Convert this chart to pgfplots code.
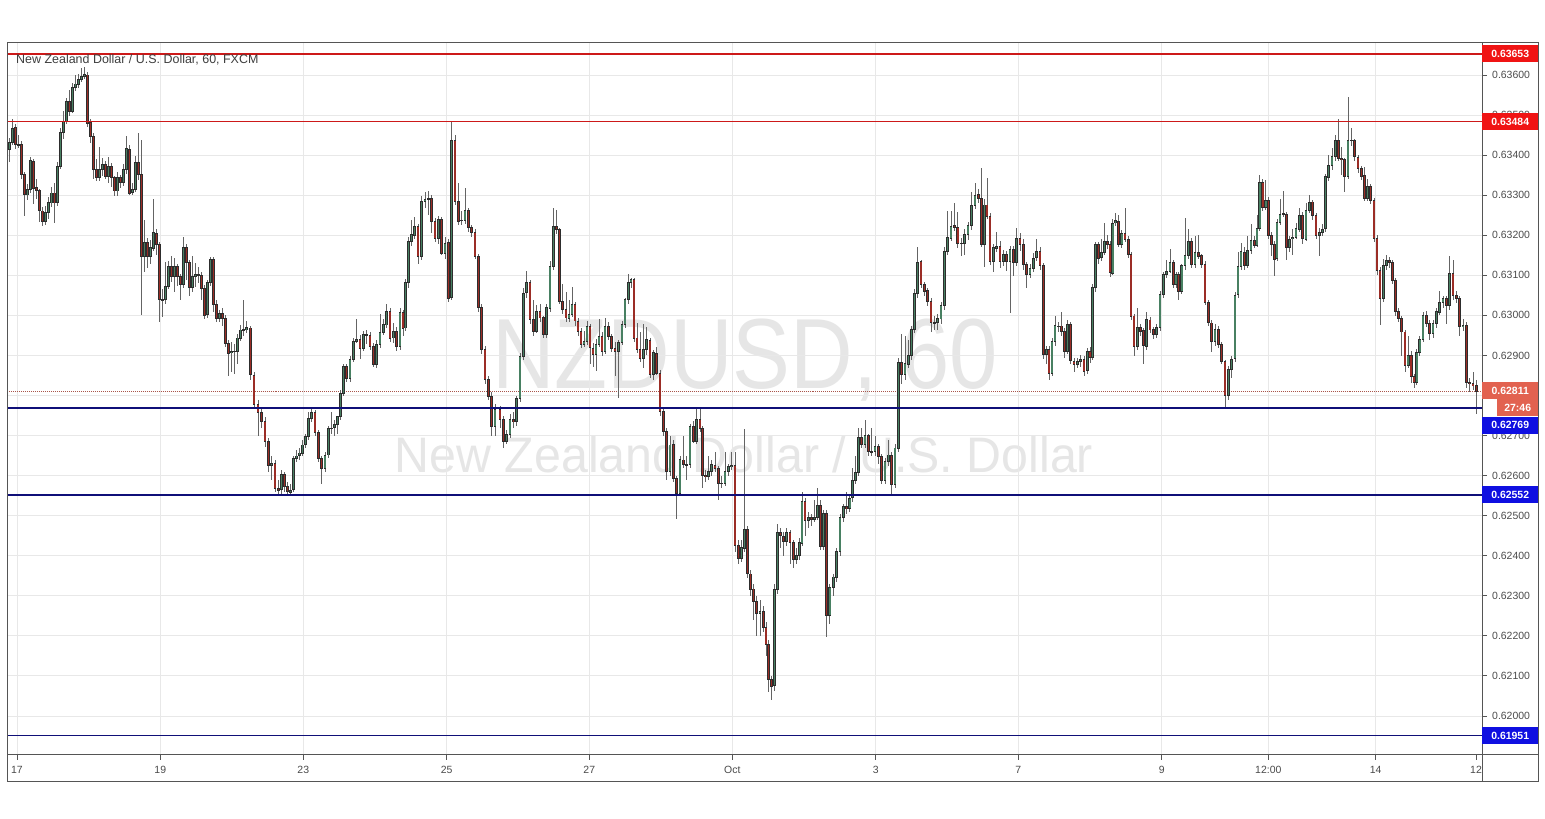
\documentclass[border=0pt]{standalone}
\usepackage{fontspec}
\setmainfont{Liberation Sans}
\usepackage{pgfplots}
\usepackage{pgfplotstable}
\pgfplotsset{compat=1.18}

\definecolor{upc}{RGB}{72,128,98}
\definecolor{dnc}{RGB}{155,45,38}
\definecolor{edge}{RGB}{45,45,45}
\definecolor{wick}{RGB}{100,100,100}
\definecolor{gridc}{RGB}{232,232,232}
\definecolor{framec}{RGB}{85,85,85}
\definecolor{resc}{RGB}{205,25,25}
\definecolor{supc}{RGB}{15,15,120}
\definecolor{tagred}{RGB}{240,20,20}
\definecolor{tagblue}{RGB}{15,15,225}
\definecolor{tagcur}{RGB}{226,98,80}
\definecolor{curline}{RGB}{170,85,75}
\definecolor{wm}{RGB}{230,230,230}
\definecolor{txt}{RGB}{75,75,75}
\definecolor{ttl}{RGB}{62,62,62}

% support / resistance levels
\pgfplotstableread{
x y
7 0.63653
1482 0.63653
}\levA
\pgfplotstableread{
x y
7 0.62769
1482 0.62769
}\levC
\pgfplotstableread{
x y
7 0.62552
1482 0.62552
}\levD

% hourly candles, x = position on the time axis
\pgfplotstableread{
x o h l c
9.5 0.63415 0.63445 0.63385 0.63432
12.5 0.63432 0.63490 0.63425 0.63469
15.5 0.63469 0.63478 0.63415 0.63427
18.5 0.63427 0.63450 0.63418 0.63428
21.5 0.63428 0.63435 0.63340 0.63353
24.5 0.63353 0.63360 0.63248 0.63302
27.5 0.63302 0.63330 0.63290 0.63315
30.5 0.63315 0.63395 0.63305 0.63386
33.5 0.63386 0.63392 0.63280 0.63319
36.5 0.63319 0.63340 0.63290 0.63311
39.5 0.63311 0.63318 0.63235 0.63261
42.5 0.63261 0.63270 0.63223 0.63236
45.5 0.63236 0.63275 0.63226 0.63257
48.5 0.63257 0.63295 0.63240 0.63282
51.5 0.63282 0.63320 0.63270 0.63307
54.5 0.63307 0.63330 0.63230 0.63282
57.5 0.63282 0.63385 0.63275 0.63373
60.5 0.63373 0.63466 0.63365 0.63457
63.5 0.63457 0.63510 0.63440 0.63486
66.5 0.63486 0.63545 0.63478 0.63536
69.5 0.63536 0.63565 0.63500 0.63511
72.5 0.63511 0.63580 0.63505 0.63569
75.5 0.63569 0.63600 0.63560 0.63578
78.5 0.63578 0.63605 0.63570 0.63590
81.5 0.63590 0.63619 0.63582 0.63598
84.5 0.63598 0.63622 0.63590 0.63602
87.5 0.63602 0.63608 0.63470 0.63482
90.5 0.63482 0.63490 0.63430 0.63448
93.5 0.63448 0.63455 0.63340 0.63365
96.5 0.63365 0.63390 0.63335 0.63344
99.5 0.63344 0.63420 0.63335 0.63365
102.5 0.63365 0.63395 0.63350 0.63377
105.5 0.63377 0.63385 0.63340 0.63348
108.5 0.63348 0.63395 0.63330 0.63373
111.5 0.63373 0.63380 0.63320 0.63344
114.5 0.63344 0.63350 0.63300 0.63311
117.5 0.63311 0.63360 0.63300 0.63344
120.5 0.63344 0.63352 0.63320 0.63332
123.5 0.63332 0.63380 0.63325 0.63365
126.5 0.63365 0.63448 0.63355 0.63417
129.5 0.63417 0.63425 0.63300 0.63307
132.5 0.63307 0.63330 0.63300 0.63315
135.5 0.63315 0.63400 0.63310 0.63382
138.5 0.63382 0.63457 0.63340 0.63352
141.5 0.63352 0.63440 0.63002 0.63148
144.5 0.63148 0.63240 0.63110 0.63182
147.5 0.63182 0.63195 0.63120 0.63148
150.5 0.63148 0.63190 0.63130 0.63169
153.5 0.63169 0.63290 0.63160 0.63207
156.5 0.63207 0.63215 0.63150 0.63178
159.5 0.63178 0.63185 0.62986 0.63040
162.5 0.63040 0.63065 0.62995 0.63040
165.5 0.63040 0.63135 0.63030 0.63073
168.5 0.63073 0.63135 0.63065 0.63123
171.5 0.63123 0.63150 0.63085 0.63098
174.5 0.63098 0.63145 0.63060 0.63123
177.5 0.63123 0.63130 0.63075 0.63098
180.5 0.63098 0.63105 0.63040 0.63077
183.5 0.63077 0.63195 0.63070 0.63169
186.5 0.63169 0.63178 0.63090 0.63132
189.5 0.63132 0.63140 0.63050 0.63069
192.5 0.63069 0.63150 0.63060 0.63098
195.5 0.63098 0.63130 0.63070 0.63102
198.5 0.63102 0.63120 0.63080 0.63102
201.5 0.63102 0.63110 0.63040 0.63069
204.5 0.63069 0.63075 0.62990 0.63002
207.5 0.63002 0.63090 0.62995 0.63082
210.5 0.63082 0.63148 0.63075 0.63140
213.5 0.63140 0.63145 0.63010 0.63028
216.5 0.63028 0.63040 0.62985 0.62994
219.5 0.62994 0.63015 0.62985 0.63006
222.5 0.63006 0.63020 0.62975 0.62994
225.5 0.62994 0.63000 0.62920 0.62932
228.5 0.62932 0.62940 0.62850 0.62907
231.5 0.62907 0.62935 0.62860 0.62911
234.5 0.62911 0.62930 0.62855 0.62911
237.5 0.62911 0.62955 0.62880 0.62944
240.5 0.62944 0.62975 0.62935 0.62965
243.5 0.62965 0.63040 0.62950 0.62965
246.5 0.62965 0.62985 0.62955 0.62969
250.5 0.62969 0.62975 0.62840 0.62852
254 0.62852 0.62860 0.62770 0.62778
258 0.62778 0.62790 0.62700 0.62757
261.5 0.62757 0.62770 0.62720 0.62736
265 0.62736 0.62745 0.62670 0.62686
268.5 0.62686 0.62695 0.62610 0.62627
271.5 0.62627 0.62650 0.62590 0.62630
275 0.62630 0.62640 0.62560 0.62569
278.5 0.62569 0.62590 0.62552 0.62565
281.5 0.62565 0.62615 0.62555 0.62603
284.5 0.62603 0.62610 0.62560 0.62573
287.5 0.62573 0.62585 0.62552 0.62560
290.5 0.62560 0.62580 0.62553 0.62565
293.5 0.62565 0.62650 0.62560 0.62644
296.5 0.62644 0.62665 0.62635 0.62650
299.5 0.62650 0.62670 0.62640 0.62657
302.5 0.62657 0.62690 0.62650 0.62678
305.5 0.62678 0.62705 0.62670 0.62698
308.5 0.62698 0.62760 0.62690 0.62744
311.5 0.62744 0.62770 0.62735 0.62757
315 0.62757 0.62765 0.62700 0.62707
318.5 0.62707 0.62715 0.62635 0.62644
321.5 0.62644 0.62650 0.62581 0.62619
325 0.62619 0.62660 0.62610 0.62652
328.5 0.62652 0.62725 0.62645 0.62719
331.5 0.62719 0.62760 0.62705 0.62720
334.5 0.62720 0.62740 0.62700 0.62727
337.5 0.62727 0.62745 0.62705 0.62748
340.5 0.62748 0.62815 0.62740 0.62807
343.5 0.62807 0.62880 0.62800 0.62873
346.5 0.62873 0.62880 0.62835 0.62844
350 0.62844 0.62900 0.62835 0.62890
353.5 0.62890 0.62945 0.62885 0.62936
356.5 0.62936 0.62990 0.62930 0.62940
360 0.62940 0.62950 0.62890 0.62919
363.5 0.62919 0.62960 0.62910 0.62952
366.5 0.62952 0.62965 0.62930 0.62952
370 0.62952 0.62960 0.62915 0.62923
373.5 0.62923 0.62930 0.62870 0.62878
376.5 0.62878 0.62940 0.62870 0.62928
380 0.62928 0.63005 0.62920 0.62957
383.5 0.62957 0.62990 0.62950 0.62977
386.5 0.62977 0.63030 0.62970 0.63011
390 0.63011 0.63020 0.62935 0.62944
393.5 0.62944 0.62980 0.62930 0.62961
396.5 0.62961 0.62970 0.62910 0.62923
400 0.62923 0.63020 0.62915 0.63007
403 0.63007 0.63015 0.62950 0.62969
405.5 0.62969 0.63090 0.62960 0.63082
408.5 0.63082 0.63195 0.63070 0.63186
411.5 0.63186 0.63240 0.63175 0.63202
414.5 0.63202 0.63245 0.63190 0.63223
418 0.63223 0.63230 0.63130 0.63148
421.5 0.63148 0.63300 0.63140 0.63286
425 0.63286 0.63310 0.63270 0.63290
428.5 0.63290 0.63310 0.63250 0.63292
431.5 0.63292 0.63300 0.63205 0.63236
435 0.63236 0.63245 0.63185 0.63194
438.5 0.63194 0.63250 0.63180 0.63240
441.5 0.63240 0.63245 0.63150 0.63157
445 0.63157 0.63195 0.63140 0.63182
448.5 0.63182 0.63190 0.63035 0.63044
451.5 0.63044 0.63483 0.63040 0.63437
455 0.63437 0.63450 0.63275 0.63286
458.5 0.63286 0.63330 0.63225 0.63236
461.5 0.63236 0.63260 0.63225 0.63238
465 0.63238 0.63320 0.63230 0.63262
468.5 0.63262 0.63270 0.63210 0.63219
471.5 0.63219 0.63225 0.63195 0.63207
475 0.63207 0.63215 0.63140 0.63148
478.5 0.63148 0.63155 0.63010 0.63019
481.5 0.63019 0.63030 0.62905 0.62915
485 0.62915 0.62925 0.62830 0.62840
488.5 0.62840 0.62850 0.62790 0.62798
491.5 0.62798 0.62810 0.62700 0.62723
495 0.62723 0.62780 0.62700 0.62765
500 0.62765 0.62775 0.62720 0.62740
503.3 0.62740 0.62750 0.62669 0.62686
506.7 0.62686 0.62715 0.62680 0.62703
510 0.62703 0.62755 0.62695 0.62740
513.3 0.62740 0.62760 0.62720 0.62735
516.7 0.62735 0.62800 0.62725 0.62794
520 0.62794 0.62905 0.62785 0.62898
523.3 0.62898 0.63070 0.62890 0.63057
526.7 0.63057 0.63111 0.63045 0.63082
530 0.63082 0.63090 0.62980 0.62990
533.3 0.62990 0.63040 0.62950 0.62961
536.7 0.62961 0.63025 0.62955 0.63011
540 0.63011 0.63030 0.62985 0.62994
543.3 0.62994 0.63000 0.62945 0.62952
546.7 0.62952 0.63030 0.62945 0.63019
550 0.63019 0.63135 0.63010 0.63123
553.3 0.63123 0.63269 0.63115 0.63223
556.7 0.63223 0.63265 0.63205 0.63215
559.5 0.63215 0.63220 0.63030 0.63036
562.5 0.63036 0.63080 0.63005 0.63015
566 0.63015 0.63060 0.62985 0.62994
569 0.62994 0.63040 0.62985 0.63003
572 0.63003 0.63070 0.62995 0.63028
575 0.63028 0.63035 0.62975 0.62986
578 0.62986 0.62995 0.62950 0.62961
581 0.62961 0.62970 0.62920 0.62928
584 0.62928 0.62960 0.62920 0.62936
587 0.62936 0.62985 0.62925 0.62973
590 0.62973 0.62980 0.62880 0.62919
593 0.62919 0.62930 0.62870 0.62903
596 0.62903 0.62940 0.62860 0.62928
599 0.62928 0.62990 0.62920 0.62948
602 0.62948 0.62960 0.62900 0.62911
605 0.62911 0.62995 0.62905 0.62973
608.5 0.62973 0.62985 0.62940 0.62948
611.5 0.62948 0.62955 0.62910 0.62919
615 0.62919 0.62935 0.62850 0.62911
618.5 0.62911 0.62940 0.62794 0.62932
622 0.62932 0.62985 0.62925 0.62978
625 0.62978 0.63045 0.62970 0.63040
628.3 0.63040 0.63103 0.63030 0.63082
631 0.63082 0.63095 0.63070 0.63090
634 0.63090 0.63095 0.62935 0.62944
637 0.62944 0.62980 0.62905 0.62915
640 0.62915 0.62960 0.62885 0.62894
643.3 0.62894 0.62980 0.62870 0.62915
646.7 0.62915 0.62970 0.62900 0.62940
650 0.62940 0.62945 0.62845 0.62853
653.3 0.62853 0.62915 0.62840 0.62907
656.7 0.62907 0.62920 0.62850 0.62857
660 0.62857 0.62865 0.62750 0.62761
663.3 0.62761 0.62770 0.62700 0.62711
666.7 0.62711 0.62720 0.62590 0.62611
670 0.62611 0.62700 0.62600 0.62678
673.3 0.62678 0.62690 0.62585 0.62594
676.7 0.62594 0.62600 0.62494 0.62557
680 0.62557 0.62650 0.62550 0.62640
683.3 0.62640 0.62700 0.62620 0.62628
686.7 0.62628 0.62650 0.62590 0.62628
690 0.62628 0.62730 0.62620 0.62723
693.3 0.62723 0.62735 0.62680 0.62686
696.7 0.62686 0.62769 0.62680 0.62740
700 0.62740 0.62769 0.62710 0.62719
702.7 0.62719 0.62725 0.62570 0.62602
705.7 0.62602 0.62615 0.62585 0.62598
708.7 0.62598 0.62650 0.62590 0.62611
711.7 0.62611 0.62640 0.62600 0.62627
715 0.62627 0.62660 0.62610 0.62619
718.3 0.62619 0.62625 0.62540 0.62582
721.7 0.62582 0.62600 0.62570 0.62582
725 0.62582 0.62660 0.62575 0.62611
728.3 0.62611 0.62630 0.62600 0.62623
731.7 0.62623 0.62660 0.62615 0.62627
735 0.62627 0.62660 0.62410 0.62427
738.3 0.62427 0.62440 0.62380 0.62394
741.2 0.62394 0.62440 0.62385 0.62420
744.4 0.62420 0.62717 0.62410 0.62467
747.5 0.62467 0.62475 0.62345 0.62356
750.5 0.62356 0.62365 0.62300 0.62317
753.3 0.62317 0.62330 0.62240 0.62287
756.7 0.62287 0.62300 0.62200 0.62257
760 0.62257 0.62290 0.62200 0.62262
763.3 0.62262 0.62275 0.62210 0.62222
766 0.62222 0.62235 0.62150 0.62179
768.7 0.62179 0.62190 0.62060 0.62093
771.5 0.62093 0.62100 0.62042 0.62076
774.3 0.62076 0.62330 0.62065 0.62317
777.2 0.62317 0.62480 0.62305 0.62459
780.3 0.62459 0.62470 0.62420 0.62450
783.4 0.62450 0.62460 0.62400 0.62437
786.7 0.62437 0.62470 0.62425 0.62459
790 0.62459 0.62465 0.62380 0.62433
793.3 0.62433 0.62440 0.62370 0.62390
796.5 0.62390 0.62420 0.62380 0.62400
799.3 0.62400 0.62445 0.62390 0.62433
802 0.62433 0.62560 0.62425 0.62536
805 0.62536 0.62545 0.62450 0.62489
808.4 0.62489 0.62510 0.62470 0.62497
811.5 0.62497 0.62505 0.62475 0.62492
814.5 0.62492 0.62540 0.62485 0.62497
817.5 0.62497 0.62570 0.62490 0.62527
820.5 0.62527 0.62540 0.62415 0.62424
823.5 0.62424 0.62515 0.62415 0.62506
826.5 0.62506 0.62515 0.62197 0.62252
829.8 0.62252 0.62330 0.62230 0.62321
833.2 0.62321 0.62355 0.62300 0.62347
836.6 0.62347 0.62420 0.62335 0.62411
840 0.62411 0.62505 0.62400 0.62497
843.3 0.62497 0.62530 0.62485 0.62523
846.6 0.62523 0.62560 0.62505 0.62519
849.8 0.62519 0.62555 0.62510 0.62545
852.7 0.62545 0.62620 0.62535 0.62588
855.5 0.62588 0.62650 0.62580 0.62609
858.5 0.62609 0.62720 0.62600 0.62695
861.7 0.62695 0.62720 0.62670 0.62678
865 0.62678 0.62740 0.62670 0.62700
868.3 0.62700 0.62705 0.62650 0.62661
871.7 0.62661 0.62720 0.62650 0.62661
875 0.62661 0.62700 0.62650 0.62674
878.3 0.62674 0.62680 0.62630 0.62648
881.7 0.62648 0.62655 0.62580 0.62588
885 0.62588 0.62645 0.62580 0.62635
888.3 0.62635 0.62690 0.62625 0.62652
891.7 0.62652 0.62660 0.62552 0.62579
895 0.62579 0.62680 0.62570 0.62669
898.3 0.62669 0.62895 0.62660 0.62884
901.7 0.62884 0.62955 0.62830 0.62854
905 0.62854 0.62950 0.62840 0.62880
908.2 0.62880 0.62940 0.62870 0.62901
911.3 0.62901 0.62975 0.62890 0.62965
914.3 0.62965 0.63065 0.62955 0.63056
917.5 0.63056 0.63170 0.63045 0.63134
920.9 0.63134 0.63140 0.63070 0.63078
924.3 0.63078 0.63085 0.63050 0.63061
927.7 0.63061 0.63070 0.63025 0.63035
931 0.63035 0.63045 0.62960 0.62983
934.3 0.62983 0.63000 0.62965 0.62983
937.6 0.62983 0.63005 0.62965 0.62992
940.9 0.62992 0.63035 0.62980 0.63026
944.2 0.63026 0.63170 0.63015 0.63159
947.6 0.63159 0.63260 0.63150 0.63194
951 0.63194 0.63260 0.63185 0.63224
954.4 0.63224 0.63280 0.63210 0.63220
957.8 0.63220 0.63260 0.63170 0.63181
961.2 0.63181 0.63195 0.63150 0.63181
964.6 0.63181 0.63215 0.63150 0.63202
968 0.63202 0.63235 0.63190 0.63224
971.5 0.63224 0.63310 0.63215 0.63275
975 0.63275 0.63330 0.63265 0.63301
978.3 0.63301 0.63315 0.63280 0.63292
981.5 0.63292 0.63369 0.63170 0.63178
984.3 0.63178 0.63290 0.63120 0.63277
987 0.63277 0.63344 0.63240 0.63248
990 0.63248 0.63255 0.63125 0.63136
993.3 0.63136 0.63180 0.63110 0.63169
996.7 0.63169 0.63210 0.63160 0.63173
1000 0.63173 0.63185 0.63120 0.63136
1003.3 0.63136 0.63165 0.63125 0.63153
1006.7 0.63153 0.63160 0.63110 0.63136
1010 0.63136 0.63175 0.63007 0.63165
1013.3 0.63165 0.63175 0.63100 0.63132
1016.7 0.63132 0.63220 0.63125 0.63194
1020 0.63194 0.63205 0.63160 0.63178
1023.3 0.63178 0.63190 0.63115 0.63128
1026.7 0.63128 0.63135 0.63070 0.63103
1030 0.63103 0.63130 0.63095 0.63119
1033.3 0.63119 0.63155 0.63110 0.63144
1036.7 0.63144 0.63190 0.63135 0.63161
1040 0.63161 0.63170 0.63115 0.63124
1043.3 0.63124 0.63130 0.62890 0.62903
1046.2 0.62903 0.62925 0.62880 0.62915
1049 0.62915 0.62925 0.62840 0.62857
1052 0.62857 0.62945 0.62850 0.62936
1055 0.62936 0.63000 0.62925 0.62974
1058.2 0.62974 0.62985 0.62960 0.62974
1061.2 0.62974 0.63010 0.62950 0.62961
1064.2 0.62961 0.62970 0.62895 0.62911
1067.4 0.62911 0.62990 0.62905 0.62978
1070.7 0.62978 0.62985 0.62880 0.62887
1074 0.62887 0.62895 0.62860 0.62878
1077.3 0.62878 0.62895 0.62870 0.62886
1080.7 0.62886 0.62900 0.62870 0.62890
1084 0.62890 0.62900 0.62850 0.62862
1087.2 0.62862 0.62920 0.62855 0.62911
1090 0.62911 0.62920 0.62880 0.62895
1092.6 0.62895 0.63080 0.62890 0.63070
1095.3 0.63070 0.63185 0.63060 0.63178
1098.3 0.63178 0.63185 0.63130 0.63144
1101.3 0.63144 0.63190 0.63135 0.63157
1104.3 0.63157 0.63230 0.63150 0.63186
1107.3 0.63186 0.63200 0.63165 0.63178
1110 0.63178 0.63185 0.63095 0.63107
1112.8 0.63107 0.63240 0.63100 0.63232
1115.7 0.63232 0.63258 0.63225 0.63236
1118.7 0.63236 0.63250 0.63170 0.63178
1121.8 0.63178 0.63215 0.63170 0.63207
1125 0.63207 0.63270 0.63185 0.63190
1128.2 0.63190 0.63200 0.63145 0.63153
1131 0.63153 0.63160 0.62990 0.62999
1134 0.62999 0.63005 0.62900 0.62924
1137.3 0.62924 0.63020 0.62915 0.62970
1140.6 0.62970 0.62980 0.62950 0.62961
1143.5 0.62961 0.62970 0.62880 0.62924
1146.7 0.62924 0.63010 0.62915 0.62990
1150 0.62990 0.62995 0.62955 0.62965
1153.3 0.62965 0.62970 0.62940 0.62953
1156.7 0.62953 0.62980 0.62945 0.62970
1160 0.62970 0.63060 0.62960 0.63053
1163.3 0.63053 0.63110 0.63045 0.63103
1166.7 0.63103 0.63140 0.63095 0.63111
1170 0.63111 0.63165 0.63105 0.63132
1173.2 0.63132 0.63140 0.63070 0.63078
1176 0.63078 0.63110 0.63070 0.63103
1178.7 0.63103 0.63110 0.63040 0.63061
1181.8 0.63061 0.63130 0.63055 0.63124
1185 0.63124 0.63245 0.63115 0.63149
1188.3 0.63149 0.63215 0.63140 0.63186
1191.7 0.63186 0.63195 0.63120 0.63128
1195 0.63128 0.63200 0.63120 0.63157
1198.3 0.63157 0.63200 0.63140 0.63149
1201.7 0.63149 0.63155 0.63120 0.63128
1205 0.63128 0.63135 0.63025 0.63032
1208.3 0.63032 0.63040 0.62975 0.62982
1211.7 0.62982 0.62990 0.62910 0.62936
1215 0.62936 0.62980 0.62925 0.62965
1218.3 0.62965 0.62975 0.62920 0.62928
1221.7 0.62928 0.62935 0.62880 0.62886
1225 0.62886 0.62890 0.62772 0.62801
1228.3 0.62801 0.62875 0.62790 0.62867
1231.7 0.62867 0.62900 0.62845 0.62892
1235 0.62892 0.63060 0.62885 0.63051
1237.9 0.63051 0.63160 0.63045 0.63121
1241 0.63121 0.63180 0.63115 0.63159
1244.3 0.63159 0.63170 0.63115 0.63125
1247.7 0.63125 0.63200 0.63120 0.63163
1251 0.63163 0.63230 0.63155 0.63188
1254.2 0.63188 0.63200 0.63170 0.63176
1257 0.63176 0.63250 0.63170 0.63217
1259.8 0.63217 0.63350 0.63210 0.63333
1262.8 0.63333 0.63340 0.63260 0.63271
1265.8 0.63271 0.63340 0.63265 0.63288
1268.6 0.63288 0.63295 0.63190 0.63200
1271.6 0.63200 0.63210 0.63150 0.63179
1274.4 0.63179 0.63185 0.63100 0.63142
1277 0.63142 0.63240 0.63135 0.63234
1280 0.63234 0.63290 0.63225 0.63254
1283.2 0.63254 0.63310 0.63245 0.63254
1286.2 0.63254 0.63260 0.63140 0.63171
1289.4 0.63171 0.63200 0.63160 0.63192
1292.7 0.63192 0.63215 0.63150 0.63196
1296 0.63196 0.63230 0.63190 0.63217
1299.3 0.63217 0.63270 0.63210 0.63250
1302.7 0.63250 0.63260 0.63180 0.63192
1306 0.63192 0.63280 0.63185 0.63263
1309.3 0.63263 0.63300 0.63255 0.63284
1312.7 0.63284 0.63290 0.63240 0.63250
1316 0.63250 0.63255 0.63190 0.63200
1319.3 0.63200 0.63220 0.63150 0.63208
1322.5 0.63208 0.63230 0.63200 0.63217
1325.5 0.63217 0.63355 0.63210 0.63346
1328.7 0.63346 0.63400 0.63335 0.63375
1332 0.63375 0.63420 0.63365 0.63396
1335.3 0.63396 0.63450 0.63385 0.63437
1338.3 0.63437 0.63490 0.63385 0.63392
1341.4 0.63392 0.63420 0.63350 0.63388
1344.6 0.63388 0.63395 0.63310 0.63346
1347.9 0.63346 0.63546 0.63340 0.63437
1351.2 0.63437 0.63470 0.63425 0.63437
1354.6 0.63437 0.63440 0.63385 0.63396
1358 0.63396 0.63400 0.63355 0.63367
1361.3 0.63367 0.63375 0.63340 0.63348
1364.6 0.63348 0.63370 0.63285 0.63292
1367.6 0.63292 0.63340 0.63285 0.63321
1370.7 0.63321 0.63330 0.63280 0.63288
1373.9 0.63288 0.63295 0.63185 0.63192
1376.9 0.63192 0.63200 0.63100 0.63113
1380 0.63113 0.63120 0.62976 0.63042
1383.2 0.63042 0.63140 0.63035 0.63125
1386.5 0.63125 0.63150 0.63115 0.63138
1389.7 0.63138 0.63145 0.63120 0.63134
1392.6 0.63134 0.63140 0.63080 0.63088
1395.4 0.63088 0.63095 0.63000 0.63009
1398.4 0.63009 0.63020 0.62985 0.62992
1401.6 0.62992 0.63000 0.62900 0.62959
1404.9 0.62959 0.62965 0.62860 0.62876
1408.1 0.62876 0.62950 0.62870 0.62901
1411.1 0.62901 0.62910 0.62830 0.62847
1414 0.62847 0.62855 0.62820 0.62834
1416.8 0.62834 0.62915 0.62825 0.62909
1419.8 0.62909 0.62950 0.62900 0.62942
1423 0.62942 0.63010 0.62935 0.63000
1426.3 0.63000 0.63010 0.62970 0.62980
1429.7 0.62980 0.62990 0.62940 0.62955
1433 0.62955 0.62990 0.62945 0.62980
1436.3 0.62980 0.63020 0.62970 0.63009
1439.7 0.63009 0.63060 0.63000 0.63034
1443 0.63034 0.63050 0.63020 0.63042
1446.3 0.63042 0.63050 0.62980 0.63026
1449.7 0.63026 0.63150 0.63015 0.63105
1453 0.63105 0.63140 0.63040 0.63051
1456.3 0.63051 0.63060 0.63030 0.63042
1459.7 0.63042 0.63050 0.62950 0.62972
1463 0.62972 0.62990 0.62960 0.62976
1466.3 0.62976 0.62985 0.62820 0.62834
1469.7 0.62834 0.62845 0.62810 0.62830
1473 0.62830 0.62860 0.62815 0.62826
1476.3 0.62826 0.62840 0.62755 0.62811
}\candles

\begin{document}
\begin{tikzpicture}
\path[use as bounding box, fill=white] (0bp,0bp) rectangle (1545bp,819bp);

% watermark
\node[text=wm, font=\fontsize{100}{100}\selectfont, xscale=0.87, anchor=base] at (745bp,430bp) {NZDUSD, 60};
\node[text=wm, font=\fontsize{50}{50}\selectfont, xscale=0.97, anchor=base] at (744bp,346bp) {New Zealand Dollar / U.S. Dollar};

\begin{axis}[
  at={(7bp,64bp)}, anchor=south west,
  scale only axis, width=1475bp, height=712bp,
  xmin=7, xmax=1482, ymin=0.619027, ymax=0.636799,
  axis line style={draw=framec, line width=1bp},
  xtick={17,160.3,303.3,446.7,589.3,732.3,875.7,1018.3,1161.7,1268.3,1375.7},
  xticklabels={17,19,23,25,27,Oct,3,7,9,12:00,14},
  extra x ticks={1476},
  extra x tick labels={12},
  extra x tick style={grid=none},
  ytick={0.620,0.621,0.622,0.623,0.624,0.625,0.626,0.627,0.628,0.629,0.630,0.631,0.632,0.633,0.634,0.635,0.636},
  yticklabels={0.62000,0.62100,0.62200,0.62300,0.62400,0.62500,0.62600,0.62700,0.62800,0.62900,0.63000,0.63100,0.63200,0.63300,0.63400,0.63500,0.63600},
  xtick pos=left, ytick pos=right, yticklabel pos=right,
  tick align=outside, major tick length=5bp,
  tick style={draw=framec, line width=1bp},
  grid=major, major grid style={draw=gridc, line width=1bp},
  ticklabel style={text=txt, font=\fontsize{10.5}{12}\selectfont},
  yticklabel style={anchor=west, inner sep=0pt, xshift=5bp},
  xticklabel style={anchor=base, inner sep=0pt, yshift=-14bp},
]
\addplot[draw=curline, densely dotted, line width=1bp, mark=none] coordinates {(7,0.62811) (1482,0.62811)};

% wicks
\addplot[draw=none, mark=none, error bars/.cd, y dir=both, y explicit, error mark=none,
  error bar style={draw=wick, line width=0.8bp}]
  table[x=x, y expr={(\thisrow{h}+\thisrow{l})/2}, y error expr={(\thisrow{h}-\thisrow{l})/2}] {\candles};
% body outlines
\addplot[draw=none, mark=none, error bars/.cd, y dir=both, y explicit, error mark=none,
  error bar style={draw=edge, line width=2.8bp}]
  table[x=x, y expr={(\thisrow{o}+\thisrow{c})/2}, y error expr={abs(\thisrow{c}-\thisrow{o})/2+0.000012}] {\candles};
% rising bodies
\addplot[draw=none, mark=none, restrict expr to domain={\thisrow{c}-\thisrow{o}}{0:1},
  error bars/.cd, y dir=both, y explicit, error mark=none,
  error bar style={draw=upc, line width=1.4bp}]
  table[x=x, y expr={(\thisrow{o}+\thisrow{c})/2}, y error expr={max(abs(\thisrow{c}-\thisrow{o})/2-0.000012,0)}] {\candles};
% falling bodies
\addplot[draw=none, mark=none, restrict expr to domain={\thisrow{c}-\thisrow{o}}{-1:-0.000001},
  error bars/.cd, y dir=both, y explicit, error mark=none,
  error bar style={draw=dnc, line width=1.4bp}]
  table[x=x, y expr={(\thisrow{o}+\thisrow{c})/2}, y error expr={max(abs(\thisrow{c}-\thisrow{o})/2-0.000012,0)}] {\candles};

% levels, drawn over the candles
\addplot[draw=resc, line width=1.8bp, mark=none] table[x=x, y=y] {\levA};
\addplot[draw=supc, line width=1.6bp, mark=none] table[x=x, y=y] {\levC};
\addplot[draw=supc, line width=1.6bp, mark=none] table[x=x, y=y] {\levD};
\draw[resc, line width=1.8bp] (axis cs:7,0.63484) -- (axis cs:1482,0.63484);
\draw[supc, line width=1.6bp] (axis cs:7,0.61951) -- (axis cs:1482,0.61951);
\end{axis}

% outer frame and scale separators
\draw[framec, line width=1bp] (7bp,37bp) rectangle (1538bp,776bp);
\draw[framec, line width=1bp] (1482bp,37bp) -- (1482bp,64bp) -- (1538bp,64bp);

% title
\node[anchor=base west, text=ttl, font=\fontsize{12.5}{14}\selectfont, inner sep=0pt] at (16bp,755bp) {New Zealand Dollar / U.S. Dollar, 60, FXCM};

% price tags
\tikzset{tag/.style={anchor=west, inner sep=0pt, minimum width=56bp, minimum height=17bp, text=white, font=\bfseries\fontsize{10.5}{12}\selectfont}}
\node[tag, fill=tagred] at (1482bp,765.2bp) {0.63653};
\node[tag, fill=tagred] at (1482bp,697.5bp) {0.63484};
\node[tag, fill=tagcur] at (1482bp,428.5bp) {0.62811};
\node[tag, fill=tagcur, minimum width=41bp] at (1497bp,411.5bp) {27:46};
\node[tag, fill=tagblue] at (1482bp,393.7bp) {0.62769};
\node[tag, fill=tagblue] at (1482bp,324.5bp) {0.62552};
\node[tag, fill=tagblue] at (1482bp,83bp) {0.61951};
\end{tikzpicture}
\end{document}
